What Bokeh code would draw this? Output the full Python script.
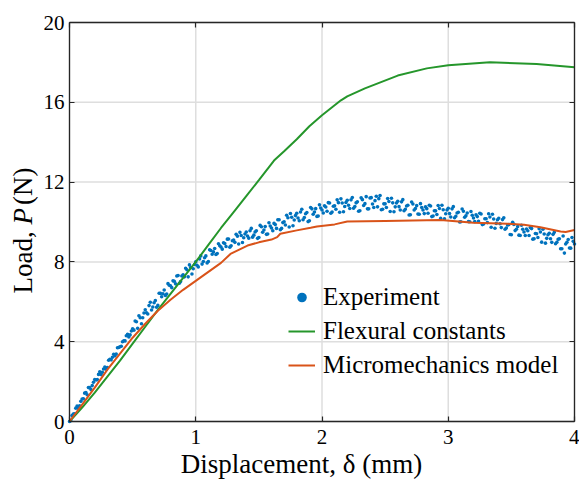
import math
from bokeh.plotting import figure
from bokeh.models import (Range1d, LinearAxis, FixedTicker, Legend, LegendItem,
                          Label, CustomJSTickFormatter, ColumnDataSource)
from bokeh.embed import file_html
from bokeh.resources import INLINE

# ---------------- data ----------------
exp_d_a = [0.00, 0.02, 0.04, 0.06, 0.08, 0.10, 0.12, 0.14, 0.16, 0.18,
           0.20, 0.22, 0.24, 0.26, 0.28, 0.30, 0.32, 0.34, 0.36, 0.38,
           0.40, 0.42, 0.44, 0.46, 0.48, 0.50, 0.52, 0.54, 0.56, 0.58,
           0.60, 0.62, 0.64, 0.66, 0.68, 0.70, 0.72, 0.74, 0.76, 0.78,
           0.80, 0.82, 0.84, 0.86, 0.88, 0.90, 0.92, 0.94, 0.96, 0.98,
           1.00, 1.02, 1.04, 1.06, 1.08, 1.10, 1.12, 1.14, 1.16, 1.18,
           1.20, 1.22, 1.24, 1.26, 1.28, 1.30, 1.32, 1.34, 1.36, 1.38,
           1.40, 1.42, 1.44, 1.46, 1.48, 1.50, 1.52, 1.54, 1.56, 1.58,
           1.60, 1.62, 1.64, 1.66, 1.68, 1.70, 1.72, 1.74, 1.76, 1.78,
           1.80, 1.82, 1.84, 1.86, 1.88, 1.90, 1.92, 1.94, 1.96, 1.98,
           2.00, 2.02, 2.04, 2.06, 2.08, 2.10, 2.12, 2.14, 2.16, 2.18,
           2.20, 2.22, 2.24, 2.26, 2.28, 2.30, 2.32, 2.34, 2.36, 2.38,
           2.40, 2.42, 2.44, 2.46, 2.48, 2.50, 2.52, 2.54, 2.56, 2.58,
           2.60, 2.62, 2.64, 2.66, 2.68, 2.70, 2.72, 2.74, 2.76, 2.78,
           2.80, 2.82, 2.84, 2.86, 2.88, 2.90, 2.92, 2.94, 2.96, 2.98,
           3.00, 3.02, 3.04, 3.06, 3.08, 3.10, 3.12, 3.14, 3.16, 3.18,
           3.20, 3.22, 3.24, 3.26, 3.28, 3.30, 3.32, 3.34, 3.36, 3.38,
           3.40, 3.42, 3.44, 3.46, 3.48, 3.50, 3.52, 3.54, 3.56, 3.58,
           3.60, 3.62, 3.64, 3.66, 3.68, 3.70, 3.72, 3.74, 3.76, 3.78,
           3.80, 3.82, 3.84, 3.86, 3.88, 3.90, 3.92, 3.94, 3.96, 3.98,
           4.00]
exp_p_a = [0.00, 0.30, 0.39, 0.77, 0.79, 1.13, 1.42, 1.34, 1.70, 1.80,
           2.10, 2.10, 2.49, 2.47, 2.73, 2.71, 3.12, 3.22, 3.29, 3.70,
           3.75, 4.00, 4.04, 4.37, 4.34, 4.65, 5.04, 4.67, 5.20, 5.20,
           5.60, 5.39, 5.98, 5.74, 6.06, 5.82, 6.42, 6.40, 6.32, 6.91,
           6.80, 7.05, 6.90, 7.32, 7.02, 7.35, 7.68, 7.25, 7.72, 7.66,
           8.00, 7.75, 8.30, 8.02, 8.30, 8.02, 8.57, 8.50, 8.37, 8.91,
           8.75, 8.96, 8.77, 9.15, 8.81, 9.10, 9.38, 8.90, 9.32, 9.21,
           9.50, 9.19, 9.68, 9.34, 9.56, 9.22, 9.76, 9.60, 9.38, 9.96,
           9.70, 9.93, 9.68, 10.11, 9.68, 10.01, 10.34, 9.75, 10.24, 10.10,
           10.44, 10.06, 10.64, 10.22, 10.48, 10.06, 10.66, 10.50, 10.28, 10.86,
           10.60, 10.81, 10.54, 10.95, 10.50, 10.81, 11.11, 10.49, 10.95, 10.78,
           11.09, 10.68, 11.23, 10.78, 11.01, 10.56, 11.12, 10.92, 10.66, 11.20,
           10.90, 11.07, 10.76, 11.33, 10.64, 10.91, 11.18, 10.53, 10.96, 10.76,
           11.04, 10.60, 11.12, 10.64, 10.84, 10.36, 10.90, 10.68, 10.40, 10.92,
           10.60, 10.76, 10.44, 10.80, 10.30, 10.56, 10.83, 10.18, 10.61, 10.41,
           10.69, 10.25, 10.77, 10.29, 10.49, 10.01, 10.54, 10.31, 10.02, 10.53,
           10.20, 10.36, 10.04, 10.40, 9.90, 10.16, 10.41, 9.74, 10.15, 9.93,
           10.19, 9.72, 10.21, 9.70, 9.87, 9.36, 9.88, 9.64, 9.34, 9.84,
           9.50, 9.65, 9.32, 9.67, 9.16, 9.41, 9.66, 8.99, 9.40, 9.18,
           9.44, 8.98, 9.48, 8.98, 9.16, 8.66, 8.44, 8.98, 8.70, 9.22,
           8.90]
exp_d_b = [0.01, 0.03, 0.05, 0.07, 0.09, 0.11, 0.13, 0.15, 0.17, 0.19,
           0.21, 0.23, 0.25, 0.27, 0.29, 0.31, 0.33, 0.35, 0.37, 0.39,
           0.41, 0.43, 0.45, 0.47, 0.49, 0.51, 0.53, 0.55, 0.57, 0.59,
           0.61, 0.63, 0.65, 0.67, 0.69, 0.71, 0.73, 0.75, 0.77, 0.79,
           0.81, 0.83, 0.85, 0.87, 0.89, 0.91, 0.93, 0.95, 0.97, 0.99,
           1.01, 1.03, 1.05, 1.07, 1.09, 1.11, 1.13, 1.15, 1.17, 1.19,
           1.21, 1.23, 1.25, 1.27, 1.29, 1.31, 1.33, 1.35, 1.37, 1.39,
           1.41, 1.43, 1.45, 1.47, 1.49, 1.51, 1.53, 1.55, 1.57, 1.59,
           1.61, 1.63, 1.65, 1.67, 1.69, 1.71, 1.73, 1.75, 1.77, 1.79,
           1.81, 1.83, 1.85, 1.87, 1.89, 1.91, 1.93, 1.95, 1.97, 1.99,
           2.01, 2.03, 2.05, 2.07, 2.09, 2.11, 2.13, 2.15, 2.17, 2.19,
           2.21, 2.23, 2.25, 2.27, 2.29, 2.31, 2.33, 2.35, 2.37, 2.39,
           2.41, 2.43, 2.45, 2.47, 2.49, 2.51, 2.53, 2.55, 2.57, 2.59,
           2.61, 2.63, 2.65, 2.67, 2.69, 2.71, 2.73, 2.75, 2.77, 2.79,
           2.81, 2.83, 2.85, 2.87, 2.89, 2.91, 2.93, 2.95, 2.97, 2.99,
           3.01, 3.03, 3.05, 3.07, 3.09, 3.11, 3.13, 3.15, 3.17, 3.19,
           3.21, 3.23, 3.25, 3.27, 3.29, 3.31, 3.33, 3.35, 3.37, 3.39,
           3.41, 3.43, 3.45, 3.47, 3.49, 3.51, 3.53, 3.55, 3.57, 3.59,
           3.61, 3.63, 3.65, 3.67, 3.69, 3.71, 3.73, 3.75, 3.77, 3.79,
           3.81, 3.83, 3.85, 3.87, 3.89, 3.91, 3.93, 3.95, 3.97, 3.99]
exp_p_b = [0.04, 0.37, 0.67, 0.66, 1.01, 1.14, 1.45, 1.70, 1.60, 1.97,
           2.08, 2.36, 2.35, 2.63, 2.62, 3.07, 3.09, 3.37, 3.38, 3.71,
           3.77, 4.05, 4.30, 4.24, 4.54, 4.58, 5.00, 5.30, 4.90, 5.44,
           5.45, 5.81, 5.59, 5.95, 5.73, 6.43, 6.25, 6.59, 6.39, 6.83,
           6.71, 7.03, 7.29, 6.93, 7.29, 7.25, 7.61, 7.85, 7.39, 7.87,
           7.83, 8.15, 7.89, 8.21, 7.95, 8.61, 8.38, 8.67, 8.42, 8.81,
           8.64, 8.92, 9.14, 8.74, 9.06, 8.98, 9.29, 9.48, 8.97, 9.40,
           9.30, 9.56, 9.24, 9.50, 9.18, 9.83, 9.49, 9.77, 9.40, 9.80,
           9.56, 9.87, 10.11, 9.61, 9.97, 9.85, 10.21, 10.43, 9.81, 10.32,
           10.20, 10.50, 10.11, 10.41, 10.02, 10.73, 10.39, 10.67, 10.30, 10.70,
           10.45, 10.75, 10.97, 10.44, 10.79, 10.64, 10.97, 11.16, 10.51, 10.98,
           10.84, 11.11, 10.69, 10.96, 10.54, 11.21, 10.83, 11.27, 10.66, 11.22,
           10.73, 11.29, 11.17, 10.61, 10.91, 10.73, 11.03, 11.19, 10.51, 10.95,
           10.77, 11.01, 10.56, 10.80, 10.35, 11.00, 10.60, 10.82, 10.39, 10.73,
           10.42, 10.67, 10.84, 10.27, 10.56, 10.38, 10.68, 10.84, 10.16, 10.60,
           10.42, 10.66, 10.21, 10.45, 10.00, 10.65, 10.24, 10.45, 10.01, 10.34,
           10.02, 10.27, 10.44, 9.87, 10.16, 9.97, 10.25, 10.39, 9.69, 10.11,
           9.91, 10.12, 9.64, 9.85, 9.37, 9.99, 9.57, 9.77, 9.32, 9.64,
           9.32, 9.56, 9.72, 9.14, 9.42, 9.22, 9.50, 9.64, 8.94, 9.36,
           9.16, 9.38, 8.91, 9.13, 8.66, 9.30, 8.90, 9.12, 8.69, 9.03]

flex_d = [0.0, 0.1, 0.2, 0.3, 0.4, 0.5, 0.6, 0.7, 0.8, 0.9, 1.0, 1.1, 1.2,
          1.3, 1.4, 1.5, 1.62, 1.7, 1.8, 1.9, 2.0, 2.1, 2.15, 2.2, 2.34,
          2.6, 2.83, 3.0, 3.33, 3.7, 4.0]
flex_p = [0.0, 0.7, 1.45, 2.25, 3.05, 3.9, 4.75, 5.6, 6.4, 7.2, 8.0, 8.85,
          9.7, 10.5, 11.3, 12.1, 13.08, 13.55, 14.15, 14.8, 15.35, 15.85,
          16.1, 16.3, 16.7, 17.34, 17.7, 17.86, 18.01, 17.92, 17.76]

micro_d = [0.0, 0.1, 0.2, 0.3, 0.4, 0.5, 0.6, 0.7, 0.8, 0.9, 1.0, 1.1, 1.2,
           1.275, 1.41, 1.5, 1.6, 1.645, 1.67, 1.8, 1.91, 1.96, 2.1, 2.2,
           2.5, 2.94, 3.2, 3.47, 3.6, 3.73, 3.89, 3.93, 4.0]
micro_p = [0.0, 0.85, 1.7, 2.6, 3.4, 4.2, 4.9, 5.55, 6.1, 6.6, 7.05, 7.5,
           7.95, 8.4, 8.82, 8.98, 9.12, 9.24, 9.41, 9.58, 9.71, 9.77, 9.88,
           10.02, 10.05, 10.1, 9.96, 9.91, 9.86, 9.74, 9.52, 9.5, 9.6]

x_ticks = [0, 1, 2, 3, 4]
y_ticks = [0, 4, 8, 12, 16, 20]

legend_labels = ["Experiment", "Flexural constants", "Micromechanics model"]
x_label = "Displacement, \u03b4 (mm)"
y_label_parts = ["Load,", "P", "(N)"]

# ---------------- style ----------------
FONT = "Liberation Serif"
BLUE = "#0072BD"
GREEN = "#25962b"
ORANGE = "#D95319"
DARK = "#262626"
GRID = "#dedede"

W, H = 579, 480
# pixel box of the axes inside the canvas
BOX_L, BOX_R, BOX_T, BOX_B = 69, 574, 22, 421
x0, x1 = x_ticks[0], x_ticks[-1]
y0, y1 = y_ticks[0], y_ticks[-1]
sx = (BOX_R - BOX_L) / (x1 - x0)
sy = (BOX_B - BOX_T) / (y1 - y0)
x_range = Range1d(x0 - BOX_L / sx, x1 + (W - BOX_R) / sx)
y_range = Range1d(y0 - (H - BOX_B) / sy, y1 + BOX_T / sy)

p = figure(width=W, height=H, output_backend="svg", toolbar_location=None,
           x_range=x_range, y_range=y_range,
           min_border_left=0, min_border_right=0, min_border_top=0,
           min_border_bottom=0)
p.background_fill_color = "white"
p.border_fill_color = "white"
p.outline_line_color = None
p.grid.visible = False

# grid lines limited to the axes box
p.segment(x0=x_ticks, y0=[y0] * len(x_ticks), x1=x_ticks, y1=[y1] * len(x_ticks),
          line_color=GRID, line_width=1.5)
p.segment(x0=[x0] * len(y_ticks), y0=y_ticks, x1=[x1] * len(y_ticks), y1=y_ticks,
          line_color=GRID, line_width=1.5)

src_a = ColumnDataSource(dict(x=exp_d_a, y=exp_p_a))
src_b = ColumnDataSource(dict(x=exp_d_b, y=exp_p_b))
p.scatter("x", "y", source=src_a, size=3.6, color=BLUE, line_color=None)
p.scatter("x", "y", source=src_b, size=3.6, color=BLUE, line_color=None)
r_leg_dot = p.scatter(x=[float("nan")], y=[float("nan")], size=7, color=BLUE,
                      line_color=None)
r_flex = p.line(flex_d, flex_p, line_color=GREEN, line_width=2)
r_micro = p.line(micro_d, micro_p, line_color=ORANGE, line_width=2)


def style_axis(ax):
    ax.axis_line_color = DARK
    ax.axis_line_width = 1.3
    ax.major_tick_in = 5
    ax.major_tick_out = 0
    ax.major_tick_line_color = DARK
    ax.major_tick_line_width = 1.2
    ax.minor_tick_line_color = None


xa, ya = p.xaxis[0], p.yaxis[0]
for ax in (xa, ya):
    style_axis(ax)
    ax.major_label_text_font = FONT
    ax.major_label_text_font_size = "21px"
    ax.major_label_text_color = "black"
xa.ticker = FixedTicker(ticks=x_ticks)
ya.ticker = FixedTicker(ticks=y_ticks)
xa.fixed_location = y0
xa.bounds = (x0, x1)
ya.fixed_location = x0
ya.bounds = (y0, y1)
xa.major_label_standoff = 8
ya.major_label_standoff = 5

blank = CustomJSTickFormatter(code="return ''")
top_ax = LinearAxis(ticker=FixedTicker(ticks=x_ticks), formatter=blank,
                    fixed_location=y1, bounds=(x0, x1))
right_ax = LinearAxis(ticker=FixedTicker(ticks=y_ticks), formatter=blank,
                      fixed_location=x1, bounds=(y0, y1))
for ax in (top_ax, right_ax):
    style_axis(ax)
    ax.major_label_standoff = 0
    ax.major_label_text_font_size = "1px"
p.add_layout(top_ax, "above")
p.add_layout(right_ax, "right")

# axis labels (italic P in the load label)
p.add_layout(Label(x=1.838, y=-2.106, text=x_label,
                   text_font=FONT, text_font_size="27px", text_align="center",
                   text_baseline="alphabetic", text_color="black"))
lab_x = -0.372
p.add_layout(Label(x=lab_x, y=6.416, text=y_label_parts[0], angle=math.pi / 2,
                   text_font=FONT, text_font_size="27px", text_align="left",
                   text_baseline="alphabetic", text_color="black"))
p.add_layout(Label(x=lab_x, y=9.875, text=y_label_parts[1], angle=math.pi / 2,
                   text_font=FONT, text_font_size="27px",
                   text_font_style="italic", text_align="left",
                   text_baseline="alphabetic", text_color="black"))
p.add_layout(Label(x=lab_x, y=10.85, text=y_label_parts[2], angle=math.pi / 2,
                   text_font=FONT, text_font_size="27px", text_align="left",
                   text_baseline="alphabetic", text_color="black"))

legend = Legend(items=[LegendItem(label=legend_labels[0], renderers=[r_leg_dot]),
                       LegendItem(label=legend_labels[1], renderers=[r_flex]),
                       LegendItem(label=legend_labels[2], renderers=[r_micro])],
                location=(288, 101))
legend.background_fill_alpha = 0
legend.border_line_color = None
legend.padding = 0
legend.margin = 0
legend.glyph_width = 27
legend.glyph_height = 24
legend.label_height = 24
legend.label_standoff = 8
legend.spacing = 6
legend.label_text_font = FONT
legend.label_text_font_size = "25px"
legend.label_text_color = "black"
p.add_layout(legend, "center")

open("out.html", "w").write(file_html(p, INLINE))
